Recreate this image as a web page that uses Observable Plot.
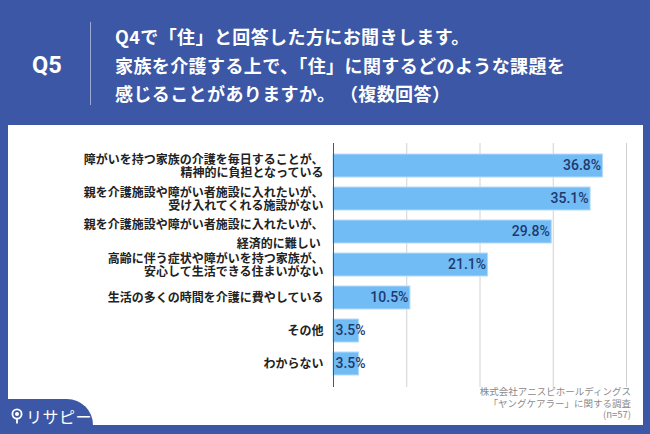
<!DOCTYPE html>
<html>
<head>
<meta charset="utf-8">
<script src="https://cdn.jsdelivr.net/npm/d3@7"></script>
<script src="https://cdn.jsdelivr.net/npm/@observablehq/plot@0.6"></script>
<style>
  html, body { margin: 0; padding: 0; }
  body { width: 650px; height: 434px; background: #3c57a5; position: relative; overflow: hidden;
         font-family: "Noto Sans CJK JP", "Noto Sans", sans-serif; }
  #qnum { position: absolute; left: 32px; top: 50px; color: #fff; font-family: Roboto, "Noto Sans", sans-serif;
          font-weight: 700; font-size: 23.5px; line-height: 30px; }
  #divider { position: absolute; left: 90px; top: 22px; width: 1px; height: 83px; background: #9aa9d6; }
  #title { position: absolute; left: 115px; top: 22px; color: #fff; font-weight: 700; font-size: 18px;
           letter-spacing: 0.4px; line-height: 28.5px; white-space: nowrap; }
  #panel { position: absolute; left: 8px; top: 125px; width: 635px; height: 300px; background: #fff; }
  #chart { position: absolute; left: 8px; top: 125px; }
  #caption { position: absolute; right: 19px; top: 386px; text-align: right; color: #8a8a8a; font-size: 9.5px;
             line-height: 11.5px; }
  #tab { position: absolute; left: 0; top: 399px; width: 93px; height: 35px; background: #3c57a5;
         border-top-right-radius: 26px; }
  #logo { position: absolute; left: 11px; top: 405px; color: #fff; font-size: 16px; line-height: 22px;
          display: flex; align-items: center; gap: 3px; letter-spacing: 0.5px; }
</style>
</head>
<body>
<div id="qnum">Q5</div>
<div id="divider"></div>
<div id="title">Q4で「住」と回答した方にお聞きします。<br>家族を介護する上で、「住」に関するどのような課題を<br>感じることがありますか。 （複数回答）</div>
<div id="panel"></div>
<div id="chart"></div>
<div id="caption">株式会社アニスピホールディングス<br>「ヤングケアラー」に関する調査<br>(n=57)</div>
<div id="tab"></div>
<div id="logo"><svg width="12" height="16" viewBox="0 0 12 16"><circle cx="6" cy="6" r="4.6" fill="none" stroke="#fff" stroke-width="1.8"/><circle cx="6" cy="6" r="2" fill="#fff"/><line x1="6" y1="11" x2="6" y2="15.5" stroke="#fff" stroke-width="1.8"/></svg><span>リサピー</span></div>
<script>
const categories = [
  "障がいを持つ家族の介護を毎日することが、\n精神的に負担となっている",
  "親を介護施設や障がい者施設に入れたいが、\n受け入れてくれる施設がない",
  "親を介護施設や障がい者施設に入れたいが、\n経済的に難しい ",
  "高齢に伴う症状や障がいを持つ家族が、\n安心して生活できる住まいがない",
  "生活の多くの時間を介護に費やしている",
  "その他",
  "わからない"
];
const values = [36.8, 35.1, 29.8, 21.1, 10.5, 3.5, 3.5];
const gridTicks = [10, 20, 30, 40];

const data = categories.map((c, i) => ({category: c, value: values[i]}));
const wideGapLabel = categories[2];

const chart = Plot.plot({
  width: 635,
  height: 262,
  marginTop: 18,
  marginBottom: 0,
  marginLeft: 325,
  marginRight: 17,
  style: {fontFamily: "'Noto Sans CJK JP', sans-serif", background: "transparent"},
  x: {domain: [0, 40], axis: null},
  y: {domain: categories, padding: 0.3, axis: null},
  marks: [
    Plot.ruleX(gridTicks, {stroke: "#d2d2d2", strokeWidth: 1}),
    Plot.barX(data, {x: "value", y: "category", fill: "#72bcf6", stroke: "#b3dbfb", strokeWidth: 1}),
    Plot.ruleX([0], {stroke: "#555", strokeWidth: 1}),
    Plot.axisY({ticks: categories.filter(c => c !== wideGapLabel), tickSize: 0, tickPadding: 10, label: null,
      fontSize: 12, fontWeight: 700, fill: "#222", lineHeight: 1.1, textAnchor: "end"}),
    Plot.axisY({ticks: [wideGapLabel], tickSize: 0, tickPadding: 10, label: null,
      fontSize: 12, fontWeight: 700, fill: "#222", lineHeight: 1.6, textAnchor: "end"}),
    Plot.text(data.filter(d => d.value >= 5), {x: "value", y: "category", text: d => d.value.toFixed(1) + "%",
      textAnchor: "end", dx: -2, fontSize: 14, fontWeight: 500, fill: "#1f3a6e",
      fontFamily: "Roboto, 'Noto Sans', sans-serif"}),
    Plot.text(data.filter(d => d.value < 5), {x: 0, y: "category", text: d => d.value.toFixed(1) + "%",
      textAnchor: "start", dx: 2, fontSize: 14, fontWeight: 500, fill: "#1f3a6e",
      fontFamily: "Roboto, 'Noto Sans', sans-serif"})
  ]
});
document.getElementById("chart").appendChild(chart);
</script>
</body>
</html>
